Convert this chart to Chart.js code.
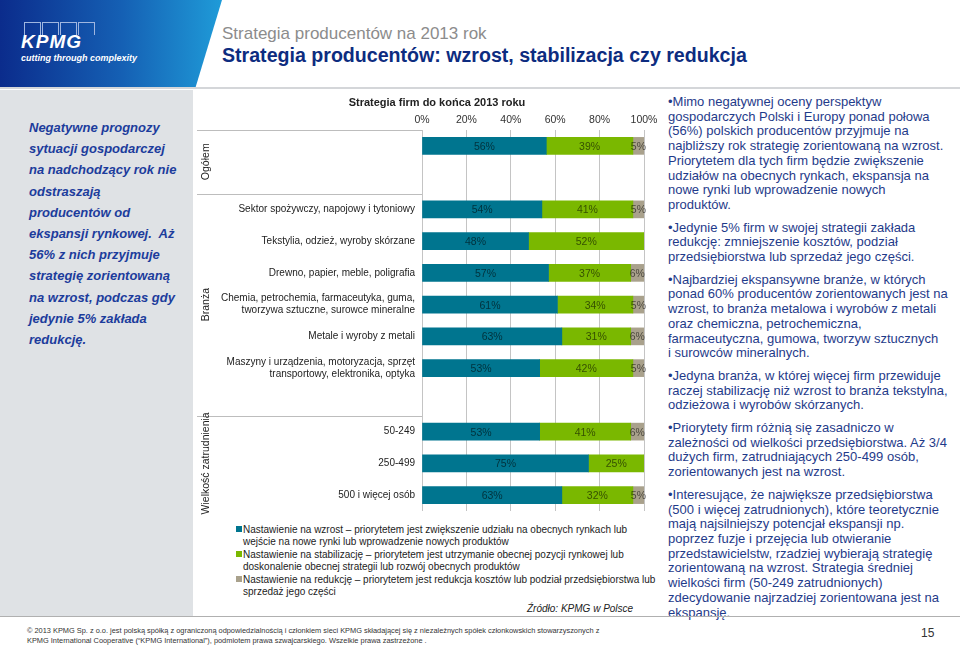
<!DOCTYPE html>
<html lang="pl">
<head>
<meta charset="utf-8">
<script src="https://cdn.jsdelivr.net/npm/chart.js@4.4.1/dist/chart.umd.min.js"></script>
<style>
html,body{margin:0;padding:0;background:#fff;}
body{width:960px;height:648px;position:relative;overflow:hidden;font-family:"Liberation Sans",Arial,sans-serif;}
.band{position:absolute;left:0;top:0;width:222px;height:88px;
background:linear-gradient(90deg,#0b2c8c 0%,#1560b4 55%,#1f9bd8 100%);
clip-path:polygon(0 0,100% 0,88% 100%,0 100%);}
.logo-boxes{position:absolute;left:24px;top:21px;}
.logo-boxes span{display:inline-block;width:15px;height:12px;border:1px solid #9fb6e0;border-bottom:none;margin-right:1px;}
.kpmg{position:absolute;left:21px;top:31px;color:#fff;font:italic bold 19px "Liberation Sans",Arial;letter-spacing:1px;}
.tag{position:absolute;left:21px;top:53px;color:#fff;font:italic bold 9px "Liberation Sans",Arial;}
.hline{position:absolute;left:0;top:87px;width:960px;height:2px;background:#d4d6d9;}
.sub{position:absolute;left:222px;top:24px;color:#8c8c8c;font-size:17px;}
.ttl{position:absolute;left:222px;top:44px;color:#0d2c80;font-size:19.6px;font-weight:bold;}
.leftpanel{position:absolute;left:0;top:90px;width:193px;height:526px;background:#dfe2e5;}
.lefttext{position:absolute;left:29px;top:27px;color:#1c3c9c;font:italic bold 13px/21.2px "Liberation Sans",Arial;}
.right{position:absolute;left:668px;top:95px;width:292px;color:#1f3b8a;font:13px/14.7px "Liberation Sans",Arial;}
.right p{margin:0 0 8px 0;}
#c{position:absolute;left:195px;top:92px;}
.legend{position:absolute;left:236px;top:524px;color:#222;font:10px/12.4px "Liberation Sans",Arial;}
.legend div{padding-left:7px;text-indent:-7px;margin-bottom:0;}
.legend i{display:inline-block;width:6px;height:6px;margin-right:1px;vertical-align:1px;}
.src{position:absolute;left:527px;top:603px;color:#222;font:italic 10px "Liberation Sans",Arial;}
.fline{position:absolute;left:0;top:616px;width:960px;height:1px;background:#b0b0b0;}
.foot{position:absolute;left:27px;top:626px;color:#333;font:7.4px/10px "Liberation Sans Narrow","Liberation Sans",Arial;}
.page{position:absolute;left:921px;top:626px;color:#333;font-size:12px;}
</style>
</head>
<body>
<div class="band">
  <div class="logo-boxes"><span></span><span></span><span></span><span></span></div>
  <div class="kpmg">KPMG</div>
  <div class="tag">cutting through complexity</div>
</div>
<div class="hline"></div>
<div class="sub">Strategia producentów na 2013 rok</div>
<div class="ttl">Strategia producentów: wzrost, stabilizacja czy redukcja</div>

<div class="leftpanel"><div class="lefttext">Negatywne prognozy<br>sytuacji gospodarczej<br>na nadchodzący rok nie<br>odstraszają<br>producentów od<br>ekspansji rynkowej.&nbsp; Aż<br>56% z nich przyjmuje<br>strategię zorientowaną<br>na wzrost, podczas gdy<br>jedynie 5% zakłada<br>redukcję.</div></div>

<canvas id="c" width="470" height="432"></canvas>

<div class="legend">
  <div><i style="background:#00758f"></i>Nastawienie na wzrost – priorytetem jest zwiększenie udziału na obecnych rynkach lub<br>wejście na nowe rynki lub wprowadzenie nowych produktów</div>
  <div><i style="background:#7ab800"></i>Nastawienie na stabilizację – priorytetem jest utrzymanie obecnej pozycji rynkowej lub<br>doskonalenie obecnej strategii lub rozwój obecnych produktów</div>
  <div><i style="background:#a9a18c"></i>Nastawienie na redukcję – priorytetem jest redukcja kosztów lub podział przedsiębiorstwa lub<br>sprzedaż jego części</div>
</div>
<div class="src">Źródło: KPMG w Polsce</div>

<div class="right">
<p>•Mimo negatywnej oceny perspektyw<br>gospodarczych Polski i Europy ponad połowa<br>(56%) polskich producentów przyjmuje na<br>najbliższy rok strategię zorientowaną na wzrost.<br>Priorytetem dla tych firm będzie zwiększenie<br>udziałów na obecnych rynkach, ekspansja na<br>nowe rynki lub wprowadzenie nowych<br>produktów.</p>
<p>•Jedynie 5% firm w swojej strategii zakłada<br>redukcję: zmniejszenie kosztów, podział<br>przedsiębiorstwa lub sprzedaż jego części.</p>
<p>•Najbardziej ekspansywne branże, w których<br>ponad 60% producentów zorientowanych jest na<br>wzrost, to branża metalowa i wyrobów z metali<br>oraz chemiczna, petrochemiczna,<br>farmaceutyczna, gumowa, tworzyw sztucznych<br>i surowców mineralnych.</p>
<p>•Jedyna branża, w której więcej firm przewiduje<br>raczej stabilizację niż wzrost to branża tekstylna,<br>odzieżowa i wyrobów skórzanych.</p>
<p>•Priorytety firm różnią się zasadniczo w<br>zależności od wielkości przedsiębiorstwa. Aż 3/4<br>dużych firm, zatrudniających 250-499 osób,<br>zorientowanych jest na wzrost.</p>
<p>•Interesujące, że największe przedsiębiorstwa<br>(500 i więcej zatrudnionych), które teoretycznie<br>mają najsilniejszy potencjał ekspansji np.<br>poprzez fuzje i przejęcia lub otwieranie<br>przedstawicielstw, rzadziej wybierają strategię<br>zorientowaną na wzrost. Strategia średniej<br>wielkości firm (50-249 zatrudnionych)<br>zdecydowanie najrzadziej zorientowana jest na<br>ekspansję.</p>
</div>

<div class="fline"></div>
<div class="foot">© 2013 KPMG Sp. z o.o. jest polską spółką z ograniczoną odpowiedzialnością i członkiem sieci KPMG składającej się z niezależnych spółek członkowskich stowarzyszonych z<br>KPMG International Cooperative (“KPMG International”), podmiotem prawa szwajcarskiego. Wszelkie prawa zastrzeżone .</div>
<div class="page">15</div>

<script>
const chartTitle = "Strategia firm do końca 2013 roku";
const rowLabels = [
  "",
  "",
  "Sektor spożywczy, napojowy i tytoniowy",
  "Tekstylia, odzież, wyroby skórzane",
  "Drewno, papier, meble, poligrafia",
  ["Chemia, petrochemia, farmaceutyka, guma,", "tworzywa sztuczne, surowce mineralne"],
  "Metale i wyroby z metali",
  ["Maszyny i urządzenia, motoryzacja, sprzęt", "transportowy, elektronika, optyka"],
  "",
  "50-249",
  "250-499",
  "500 i więcej osób"
];
const growth = [56, null, 54, 48, 57, 61, 63, 53, null, 53, 75, 63];
const stable = [39, null, 41, 52, 37, 34, 31, 42, null, 41, 25, 32];
const reduce = [5, null, 5, 0, 6, 5, 6, 5, null, 6, 0, 5];
const seriesNames = ["Nastawienie na wzrost", "Nastawienie na stabilizację", "Nastawienie na redukcję"];
const groupNames = ["Ogółem", "Branża", "Wielkość zatrudnienia"];
const groupFirstRow = [0, 2, 9];
const groupLastRow = [1, 8, 11];
const xTicks = [0, 20, 40, 60, 80, 100];

const colors = ["#00758f", "#7ab800", "#a9a18c"];

// labels inside the segments
const segLabels = {
  id: "segLabels",
  afterDatasetsDraw(chart) {
    const ctx = chart.ctx;
    ctx.save();
    ctx.font = "10.5px 'Liberation Sans', Arial";
    ctx.fillStyle = "rgba(0,0,0,0.58)";
    ctx.textAlign = "center";
    ctx.textBaseline = "middle";
    chart.data.datasets.forEach((ds, i) => {
      chart.getDatasetMeta(i).data.forEach((el, j) => {
        const v = ds.data[j];
        if (!v) return;
        ctx.fillText(v + "%", (el.x + el.base) / 2, el.y + 1);
      });
    });
    ctx.restore();
  }
};

// group separators, rotated group names and the chart title
const groups = {
  id: "groups",
  afterDraw(chart) {
    const ctx = chart.ctx, y = chart.scales.y, a = chart.chartArea;
    const half = (y.getPixelForValue(1) - y.getPixelForValue(0)) / 2;
    ctx.save();
    ctx.strokeStyle = "#bdbdbd";
    ctx.lineWidth = 1;
    groupFirstRow.forEach(r => {
      const yy = Math.round(y.getPixelForValue(r) - half) + 0.5;
      ctx.beginPath();
      ctx.moveTo(2, yy);
      ctx.lineTo(a.left, yy);
      ctx.stroke();
    });
    ctx.fillStyle = "#222";
    ctx.font = "10.5px 'Liberation Sans', Arial";
    ctx.textAlign = "center";
    ctx.textBaseline = "middle";
    groupNames.forEach((g, i) => {
      const top = y.getPixelForValue(groupFirstRow[i]) - half;
      const bot = y.getPixelForValue(groupLastRow[i]) + half;
      ctx.save();
      ctx.translate(11, (top + bot) / 2);
      ctx.rotate(-Math.PI / 2);
      ctx.fillText(g, 0, 0);
      ctx.restore();
    });
    ctx.font = "bold 11px 'Liberation Sans', Arial";
    ctx.fillText(chartTitle, 242, 11);
    ctx.restore();
  }
};

new Chart(document.getElementById("c"), {
  type: "bar",
  data: {
    labels: rowLabels,
    datasets: [
      { label: seriesNames[0], data: growth, backgroundColor: colors[0] },
      { label: seriesNames[1], data: stable, backgroundColor: colors[1] },
      { label: seriesNames[2], data: reduce, backgroundColor: colors[2] }
    ]
  },
  options: {
    indexAxis: "y",
    responsive: false,
    animation: false,
    barThickness: 17,
    layout: { padding: { top: 22, right: 21, bottom: 4, left: 0 } },
    plugins: {
      legend: { display: false },
      tooltip: { enabled: false },
      title: { display: false }
    },
    scales: {
      x: {
        position: "top",
        stacked: true,
        min: 0,
        max: 100,
        afterBuildTicks: s => { s.ticks = xTicks.map(v => ({ value: v })); },
        afterFit: s => { s.height = 16; },
        ticks: {
          callback: v => v + "%",
          color: "#333",
          font: { family: "'Liberation Sans', Arial", size: 10.5 },
          padding: 4,
          maxRotation: 0
        },
        grid: { color: "#c4c4c4", drawTicks: false },
        border: { display: false }
      },
      y: {
        stacked: true,
        afterFit: s => { s.width = 227; },
        ticks: {
          color: "#222",
          font: { family: "'Liberation Sans', Arial", size: 10 },
          padding: 7,
          autoSkip: false
        },
        grid: { display: false, drawTicks: false },
        border: { display: false }
      }
    }
  },
  plugins: [segLabels, groups]
});
</script>
</body>
</html>
